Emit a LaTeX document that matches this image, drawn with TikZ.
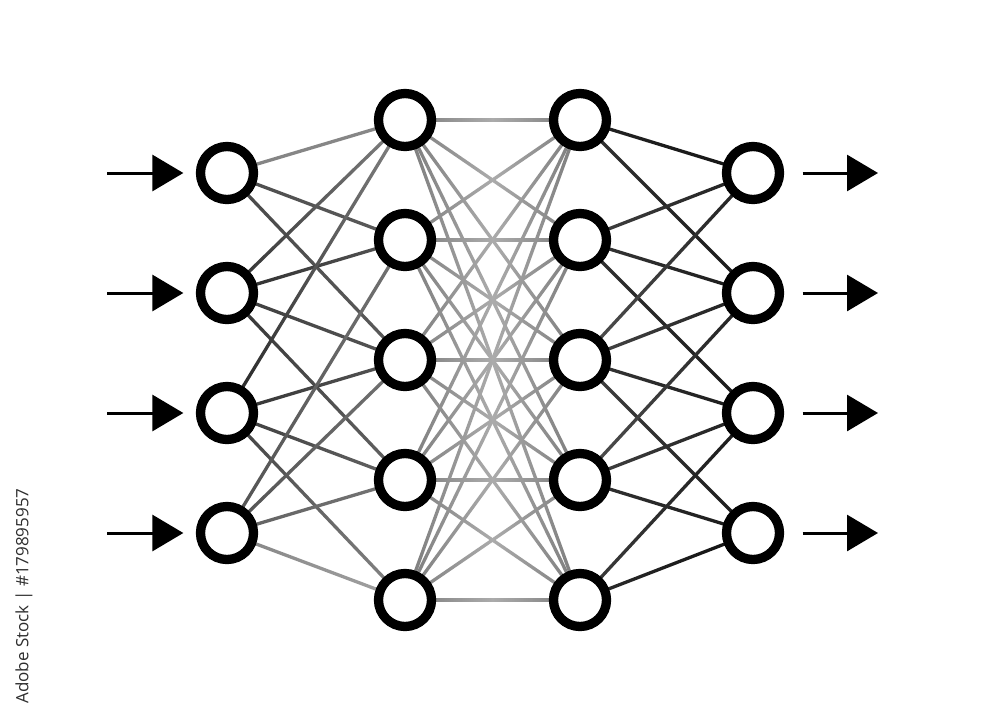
\documentclass[tikz,border=0pt]{standalone}
\usepackage{fontspec}
\newfontfamily\wmfont{Open Sans}
\usetikzlibrary{calc,arrows.meta}
\pgfdeclarelayer{bg}
\pgfdeclarelayer{edges}
\pgfsetlayers{bg,edges,main}
% gradient connector between two named nodes (left/right darkness)
\newcommand\gedge[4]{%
  \shade[left color=black!#3, right color=black!#4]
    ($(#1)!1.65pt!90:(#2)$) -- ($(#2)!1.65pt!-90:(#1)$) --
    ($(#2)!1.65pt!90:(#1)$) -- ($(#1)!1.65pt!-90:(#2)$) -- cycle;}
\newcommand\gedgemid[5]{%
  \shade[left color=black!#3, right color=black!#5, middle color=black!#4]
    ($(#1)!1.65pt!90:(#2)$) -- ($(#2)!1.65pt!-90:(#1)$) --
    ($(#2)!1.65pt!90:(#1)$) -- ($(#1)!1.65pt!-90:(#2)$) -- cycle;}
\begin{document}
\begin{tikzpicture}[x=1pt,y=-1pt,
  neuron/.style={circle,draw=black,fill=white,line width=9.3pt,minimum size=53pt,inner sep=0pt},
  arr/.style={line width=3pt,-{Triangle[length=31pt,width=36pt]}}]
\useasboundingbox (0,0) rectangle (1000,720);
\begin{pgfonlayer}{bg}
\fill[white] (0,0) rectangle (1000,720);
\end{pgfonlayer}
% neurons
\foreach \i/\y in {1/173,2/293,3/413,4/533} {
  \node[neuron] (a\i) at (227,\y) {};
  \node[neuron] (d\i) at (753,\y) {};
}
\foreach \j/\y in {1/120,2/240,3/360,4/480,5/600} {
  \node[neuron] (b\j) at (405,\y) {};
  \node[neuron] (c\j) at (580,\y) {};
}
% connectors
\begin{pgfonlayer}{edges}
% input layer -> first hidden layer
\foreach \i/\j/\l/\r in {1/1/48/47, 1/2/70/64, 1/3/72/64,
                          2/1/82/48, 2/2/82/66, 2/3/76/66, 2/4/80/60,
                          3/1/86/48, 3/3/80/66, 3/4/76/60, 3/5/76/46,
                          4/2/68/55, 4/3/68/55, 4/4/62/54, 4/5/48/36} {
  \gedge{a\i}{b\j}{\l}{\r}
}
% first hidden -> second hidden (full)
\foreach \i in {1,...,5} {
  \foreach \j in {1,...,5} {
    \gedgemid{b\i}{c\j}{52}{33}{52}
  }
}
% second hidden -> output layer
\foreach \i/\j/\l/\r in {1/1/86/92, 1/2/80/90,
                          2/1/74/88, 2/2/78/90, 2/3/80/90,
                          3/1/68/88, 3/2/72/88, 3/3/78/90, 3/4/74/90,
                          4/2/68/88, 4/3/74/88, 4/4/80/90,
                          5/3/76/90, 5/4/82/94} {
  \gedge{c\i}{d\j}{\l}{\r}
}
\end{pgfonlayer}
% input and output arrows
\foreach \i/\y in {1/173,2/293,3/413,4/533} {
  \coordinate (in\i) at (107,\y);
  \coordinate (out\i) at (878,\y);
  \draw[arr] (in\i) -- ([xshift=-12.5pt]a\i.west);
  \draw[arr] ([xshift=18.5pt]d\i.east) -- (out\i);
}
% side credit
\node[rotate=90,text=black!82,font=\wmfont\fontsize{17}{20}\selectfont,inner sep=0pt] (credit) at (24,596) {Adobe Stock | \#179895957};
\end{tikzpicture}
\end{document}
